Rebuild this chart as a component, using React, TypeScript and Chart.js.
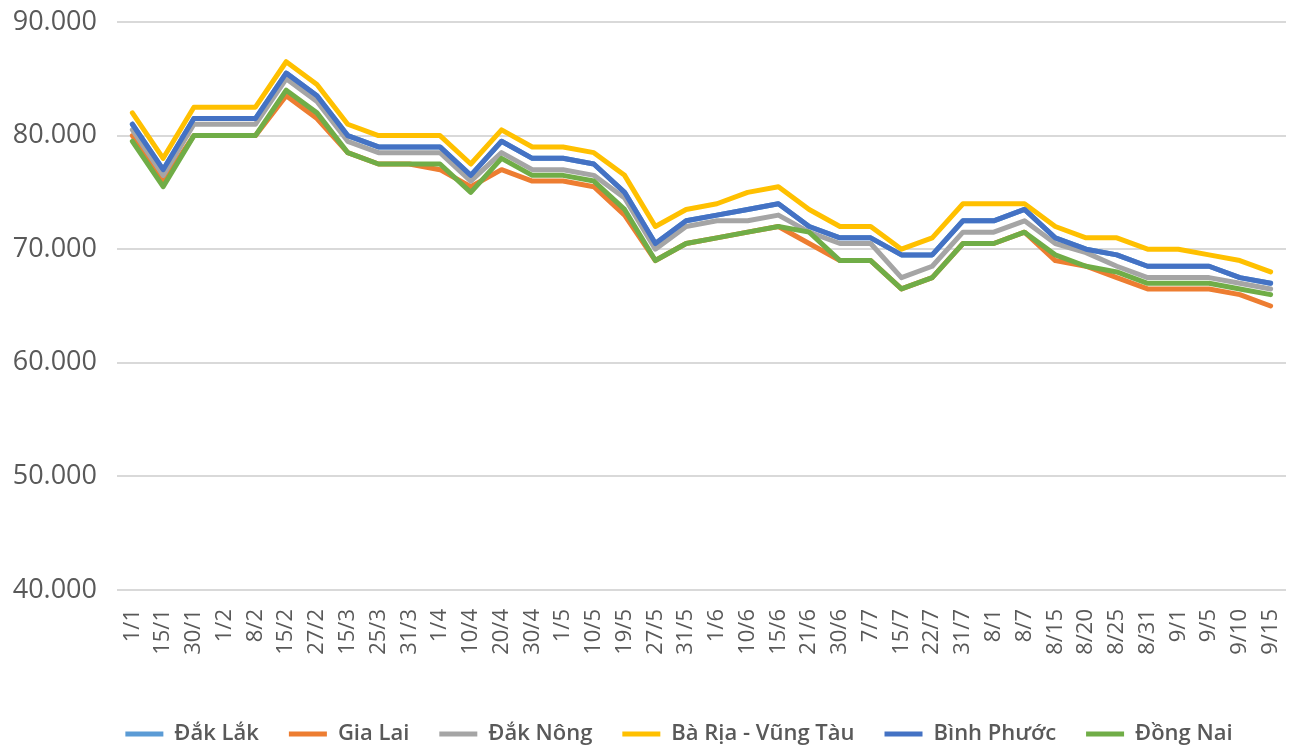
import React, { useEffect, useRef } from "react";
import { Chart, registerables } from "chart.js";

Chart.register(...registerables);

const categories = ["1/1","15/1","30/1","1/2","8/2","15/2","27/2","15/3","25/3","31/3","1/4","10/4","20/4","30/4","1/5","10/5","19/5","27/5","31/5","1/6","10/6","15/6","21/6","30/6","7/7","15/7","22/7","31/7","8/1","8/7","8/15","8/20","8/25","8/31","9/1","9/5","9/10","9/15"];

const dakLak = [81000,77000,81500,81500,81500,85500,83500,80000,79000,79000,79000,76500,79500,78000,78000,77500,75000,70500,72500,73000,73500,74000,72000,71000,71000,69500,69500,72500,72500,73500,71000,70000,69500,68500,68500,68500,67500,67000];
const giaLai = [80000,76000,80000,80000,80000,83500,81500,78500,77500,77500,77000,75500,77000,76000,76000,75500,73000,69000,70500,71000,71500,72000,70500,69000,69000,66500,67500,70500,70500,71500,69000,68500,67500,66500,66500,66500,66000,65000];
const dakNong = [80500,76500,81000,81000,81000,85000,83000,79500,78500,78500,78500,76000,78500,77000,77000,76500,74500,70000,72000,72500,72500,73000,71500,70500,70500,67500,68500,71500,71500,72500,70500,69700,68500,67500,67500,67500,67000,66500];
const baRiaVungTau = [82000,78000,82500,82500,82500,86500,84500,81000,80000,80000,80000,77500,80500,79000,79000,78500,76500,72000,73500,74000,75000,75500,73500,72000,72000,70000,71000,74000,74000,74000,72000,71000,71000,70000,70000,69500,69000,68000];
const binhPhuoc = [81000,77000,81500,81500,81500,85500,83500,80000,79000,79000,79000,76500,79500,78000,78000,77500,75000,70500,72500,73000,73500,74000,72000,71000,71000,69500,69500,72500,72500,73500,71000,70000,69500,68500,68500,68500,67500,67000];
const dongNai = [79500,75500,80000,80000,80000,84000,82000,78500,77500,77500,77500,75000,78000,76500,76500,76000,73500,69000,70500,71000,71500,72000,71500,69000,69000,66500,67500,70500,70500,71500,69500,68500,68000,67000,67000,67000,66500,66000];

const seriesNames = ["Đắk Lắk", "Gia Lai", "Đắk Nông", "Bà Rịa - Vũng Tàu", "Bình Phước", "Đồng Nai"];
const seriesValues = [dakLak, giaLai, dakNong, baRiaVungTau, binhPhuoc, dongNai];
const seriesColors = ["#5B9BD5", "#ED7D31", "#A5A5A5", "#FFC000", "#4472C4", "#70AD47"];

const yMin = 40000;
const yMax = 90000;
const yStep = 10000;

const fmt = (v: number | string) => String(v).replace(/\B(?=(\d{3})+(?!\d))/g, ".");

const TEXT = "#595959";
const FONT = "'Open Sans', sans-serif";

export default function App() {
  const ref = useRef<HTMLCanvasElement | null>(null);

  useEffect(() => {
    if (!ref.current) return;
    const legendShift = {
      id: "legendShift",
      afterLayout(chart: any) {
        const l = chart.legend;
        if (l) {
          l.top += 10;
          l.bottom += 10;
          l.left += 32;
          l.right += 32;
        }
      },
    };
    const chart = new Chart(ref.current, {
      type: "line",
      data: {
        labels: categories,
        datasets: seriesNames.map((name, i) => ({
          label: name,
          data: seriesValues[i],
          borderColor: seriesColors[i],
          backgroundColor: seriesColors[i],
          borderWidth: 5,
          pointRadius: 0,
          pointHoverRadius: 0,
          tension: 0,
          fill: false,
          borderJoinStyle: "round" as const,
          borderCapStyle: "round" as const,
          order: seriesNames.length - i,
        })),
      },
      options: {
        animation: false,
        responsive: true,
        maintainAspectRatio: false,
        layout: { padding: { top: 22, right: 3, left: 8, bottom: 0 } },
        scales: {
          x: {
            offset: true,
            grid: { display: false, drawTicks: false },
            border: { display: false },
            ticks: {
              autoSkip: false,
              minRotation: 90,
              maxRotation: 90,
              padding: 19,
              color: TEXT,
              font: { family: FONT, size: 22 },
            },
            afterFit: (s: any) => {
              s.height = 93;
              s.paddingLeft = 0;
              s.paddingRight = 0;
            },
          },
          y: {
            min: yMin,
            max: yMax,
            ticks: {
              stepSize: yStep,
              padding: 20,
              color: TEXT,
              font: { family: FONT, size: 27 },
              callback: (v: any) => fmt(v),
            },
            grid: { color: "#d9d9d9", lineWidth: 2, drawTicks: false },
            border: { display: false },
            afterFit: (s: any) => {
              s.width = 109;
              s.paddingTop = 0;
              s.paddingBottom = 0;
            },
          },
        },
        plugins: {
          legend: {
            position: "bottom",
            labels: {
              boxWidth: 38,
              boxHeight: 5,
              padding: 30,
              color: TEXT,
              font: { family: FONT, size: 22, weight: "600" },
              sort: (a: any, b: any) => a.datasetIndex - b.datasetIndex,
              generateLabels: (c: any) =>
                (Chart.defaults.plugins.legend.labels.generateLabels as any)(c).map((l: any) => ({
                  ...l,
                  lineWidth: 0,
                })),
            },
          },
          tooltip: { enabled: false },
        },
      },
      plugins: [legendShift],
    } as any);
    return () => chart.destroy();
  }, []);

  return (
    <div style={{ position: "absolute", left: 0, top: 0, width: 1289, height: 745, background: "#fff" }}>
      <canvas ref={ref} />
    </div>
  );
}
